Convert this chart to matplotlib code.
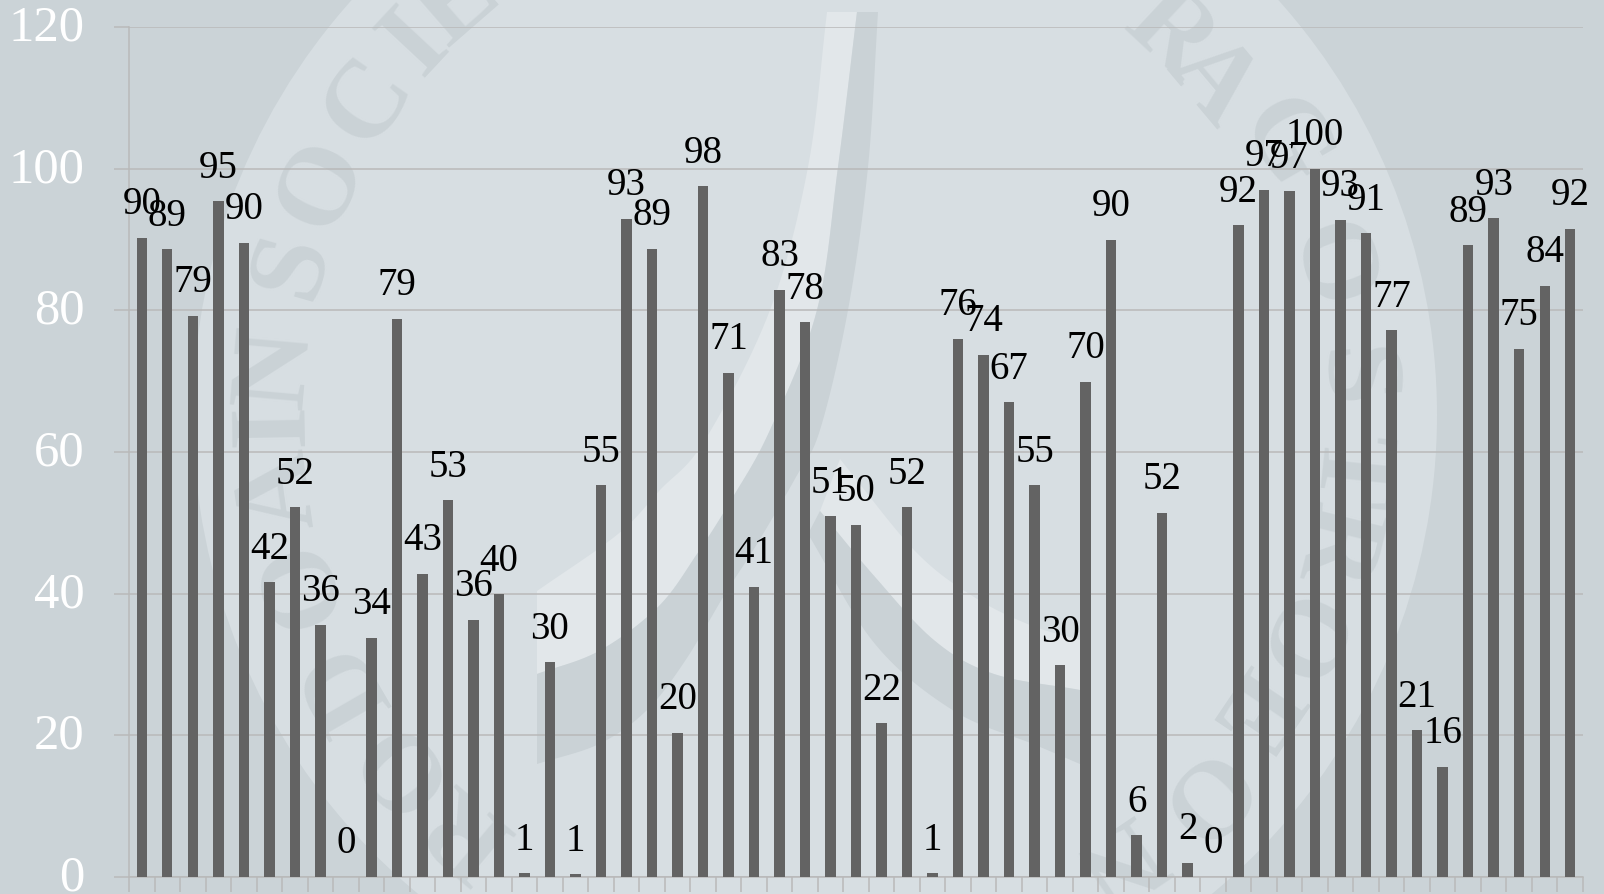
import numpy as np
import matplotlib
matplotlib.use("Agg")
import matplotlib.pyplot as plt
from matplotlib.patches import Circle, Polygon
from matplotlib.transforms import ScaledTranslation

# ---- data ----
values = [90.2, 88.6, 79.2, 95.4, 89.5, 41.6, 52.2, 35.6, 0, 33.8,
          78.8, 42.8, 53.2, 36.3, 39.9, 0.5, 30.3, 0.4, 55.3, 92.9,
          88.7, 20.4, 97.5, 71.2, 41.0, 82.9, 78.3, 50.9, 49.7, 21.7,
          52.2, 0.5, 76.0, 73.7, 67.0, 55.3, 29.9, 69.9, 90.0, 5.9,
          51.4, 2.0, 0, 92.0, 97.0, 96.8, 100, 92.8, 90.9, 77.2,
          20.7, 15.6, 89.2, 93.0, 74.6, 83.5, 91.5]
labels = [90, 89, 79, 95, 90, 42, 52, 36, 0, 34,
          79, 43, 53, 36, 40, 1, 30, 1, 55, 93,
          89, 20, 98, 71, 41, 83, 78, 51, 50, 22,
          52, 1, 76, 74, 67, 55, 30, 70, 90, 6,
          52, 2, 0, 92, 97, 97, 100, 93, 91, 77,
          21, 16, 89, 93, 75, 84, 92]
y_ticks = [0, 20, 40, 60, 80, 100, 120]

# ---- watermark seal (decoration, in figure pixels) ----
seal_letters = ["R", "O", "D", "O", "A", "I", "N", "S", "O", "C", "I", "E",
                "R", "A", "G", "O", "S", "T", "R", "O", "E", "O", "N"]
seal_angles = [-140, -130, -120, -108, -98, -91, -85, -74, -65, -55, -47, -41,
               43, 50, 60, 74, 86, 96, 104, 115, 124, 135, 146]
seal_radius = [540, 540, 540, 540, 540, 540, 540, 543, 543, 545, 545, 545,
               519, 518, 539, 533, 536, 535, 534, 527, 525, 538, 535]

BG = "#CBD3D7"
DISC = "#D7DEE2"
LIGHT = "#E2E7EA"
DARK = "#CAD2D6"
GRID = "#B9B9B9"
BAR = "#636363"
SERIF = "Liberation Serif"

def smooth(pts, n=14):
    """Catmull-Rom curve through the outline points."""
    p = np.array(pts, float)
    p = np.vstack([2 * p[0] - p[1], p, 2 * p[-1] - p[-2]])
    out = []
    for i in range(1, len(p) - 2):
        for t in np.linspace(0, 1, n, endpoint=False):
            out.append(0.5 * (2 * p[i] + (p[i + 1] - p[i - 1]) * t
                              + (2 * p[i - 1] - 5 * p[i] + 4 * p[i + 1] - p[i + 2]) * t ** 2
                              + (3 * p[i] - p[i - 1] - 3 * p[i + 1] + p[i + 2]) * t ** 3))
    out.append(p[-2])
    return np.array(out)

fig = plt.figure(figsize=(16.04, 8.94), dpi=100, facecolor=BG)

bg = fig.add_axes([0, 0, 1, 1], zorder=0)
bg.set_xlim(0, 1604)
bg.set_ylim(894, 0)
bg.axis("off")
cx, cy, R = 815, 415, 622
bg.add_patch(Circle((cx, cy), R, fc=DISC, ec="none"))

for ch, ang, rad in zip(seal_letters, seal_angles, seal_radius):
    a = np.deg2rad(ang)
    bg.text(cx + rad * np.sin(a), cy - rad * np.cos(a), ch, rotation=-ang,
            rotation_mode="anchor", ha="center", va="center", fontsize=80,
            family=SERIF, weight="bold", color=DARK)

# left swoosh
s1_outer_light = smooth([(827, 12), (808, 167), (770, 310), (705, 440), (660, 490), (618, 534), (537, 591)])
s1_inner_light = smooth([(537, 674), (599, 651), (658, 607), (697, 554), (733, 497), (770, 430), (817, 310), (838, 167), (857, 12)])
bg.add_patch(Polygon(np.vstack([s1_outer_light, s1_inner_light]), fc=LIGHT, ec="none"))
s1_dark_lower = smooth([(537, 764), (599, 744), (646, 711), (685, 661), (725, 594), (757, 544), (796, 477), (820, 430), (848, 310), (868, 167), (878, 12)])
bg.add_patch(Polygon(np.vstack([s1_inner_light, s1_dark_lower[::-1]]), fc=DARK, ec="none"))

# right swoosh
s2_upper = smooth([(840, 459), (915, 551), (974, 597), (1030, 625), (1080, 640)])
s2_lower = smooth([(820, 511), (875, 577), (935, 641), (994, 674), (1080, 690)])
bg.add_patch(Polygon(np.vstack([s2_upper, s2_lower[::-1]]), fc=LIGHT, ec="none"))
s2_dark = smooth([(808, 534), (875, 644), (954, 711), (1033, 744), (1080, 764)])
bg.add_patch(Polygon(np.vstack([s2_lower, s2_dark[::-1]]), fc=DARK, ec="none"))

# ---- chart ----
W, H = 1604, 894
left, right, top, bottom = 129, 1583, 27, 877
ax = fig.add_axes([left / W, 1 - bottom / H, (right - left) / W, (bottom - top) / H], zorder=1)
ax.patch.set_alpha(0)
x = np.arange(len(values))
ax.bar(x, values, width=0.41, color=BAR, zorder=3)
for xi, v, lab in zip(x, values, labels):
    ax.annotate(str(lab), (xi, v), xytext=(0, 17), textcoords="offset points",
                ha="center", va="baseline", fontsize=28, family=SERIF,
                color="black", zorder=4, annotation_clip=False)

ax.set_xlim(-0.5, len(values) - 0.5)
ax.set_ylim(0, 120)
ax.set_yticks(y_ticks)
ax.set_xticks(np.arange(len(values) + 1) - 0.5)
ax.set_xticklabels([])
ax.grid(axis="y", color=GRID, lw=1.1, zorder=1)
ax.set_axisbelow(True)
ax.tick_params(axis="y", length=11, width=1.1, color=GRID, pad=21, labelsize=36.5, labelcolor="white")
ax.tick_params(axis="x", length=11, width=1.1, color=GRID)
shift = ScaledTranslation(0, 3 / 72, fig.dpi_scale_trans)
for lab in ax.get_yticklabels():
    lab.set_family(SERIF)
    lab.set_transform(lab.get_transform() + shift)
for side in ("top", "right"):
    ax.spines[side].set_visible(False)
for side in ("left", "bottom"):
    ax.spines[side].set_color(GRID)
    ax.spines[side].set_linewidth(1.1)

fig.savefig("out.png", dpi=100, facecolor=BG)
